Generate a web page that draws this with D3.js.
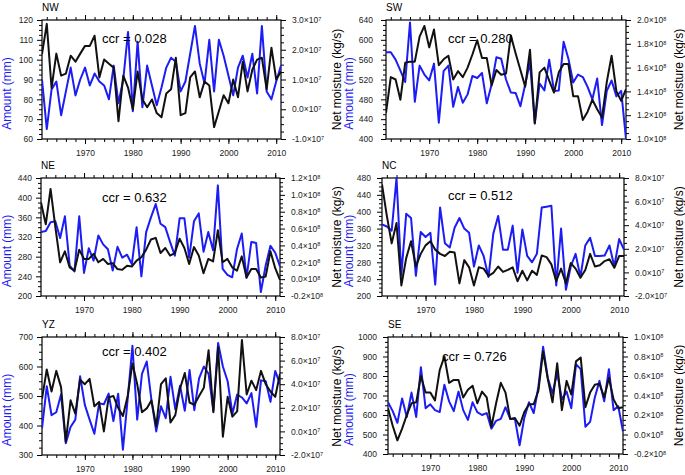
<!DOCTYPE html>
<head>
<meta charset="utf-8">
</head>
<style>
  body { margin: 0; background: #fff; }
  svg { font-family: "Liberation Sans", Arial, Helvetica, sans-serif; }
  .axis path { display: none; }
  .axis line { stroke: #000; stroke-width: 1; }
  .axis text { font-size: 8.5px; fill: #222; }
</style>
<body>
<script src="https://cdnjs.cloudflare.com/ajax/libs/d3/7.8.5/d3.min.js"></script>
<script>

// years on the x axis
var years = d3.range(1961, 2012)

// NW: amount (mm) and net moisture (x10^7 kg/s)
var nwAmount = [90,65,85,89,72,84,96,82,90,96, 87,93,89,87,80,97,78,90,114,74, 109,76,97,87,77,86,96,101,99,84, 89,103,117,98,88,110,84,110,102,92, 82,96,102,91,103,83,117,84,80,89,97]
var nwMoist = [1.85,2.87,0.71,1.87,1.13,1.2,1.8,1.6,1.87,2.13, 2.13,2.47,1.07,1.67,1.53,1.4,-0.4,1.13,0.73,0.0, 1.27,0.33,0.07,0.33,-0.13,-0.27,0.53,0.67,1.73,-0.2, -0.13,1.07,1.27,0.4,0.93,0.8,-0.6,-0.07,0.47,0.2, 1.0,0.4,1.6,0.6,1.33,1.67,1.73,0.67,2.07,1.0,1.27]

// SW: net moisture x10^8
var swAmount = [575,575,560,538,515,635,475,548,530,518, 552,433,537,548,465,505,473,490,527,523, 533,472,510,565,562,520,494,493,466,510, 555,432,512,498,560,497,498,596,562,514, 530,525,505,480,522,428,497,518,486,497,400]
var swMoist = [1.22,1.52,1.50,1.33,1.64,1.65,1.65,1.86,1.95,1.77, 1.92,1.62,1.67,1.70,1.50,1.57,1.52,1.60,1.71,1.83, 1.68,1.68,1.45,1.58,1.54,1.55,1.87,1.72,1.58,1.44, 1.75,1.13,1.56,1.60,1.49,1.39,1.56,1.63,1.63,1.36, 1.36,1.16,1.23,1.33,1.25,1.18,1.48,1.70,1.40,1.32,1.42]

// NE: net moisture x10^8
var neAmount = [330,332,350,352,318,362,262,250,362,247, 297,272,323,305,295,252,300,278,284,265, 340,240,330,360,387,347,340,310,282,358, 358,278,352,368,290,330,293,425,255,243, 238,295,327,237,310,308,208,262,302,288,260]
var neMoist = [0.91,0.65,1.07,0.62,0.20,0.33,0.14,0.10,0.35,0.24, 0.24,0.30,0.20,0.24,0.18,0.19,0.12,0.11,0.16,0.15, 0.22,0.26,0.35,0.47,0.49,0.31,0.37,0.28,0.31,0.48, 0.37,0.18,0.38,0.28,0.07,0.24,0.21,0.58,0.20,0.24, 0.14,0.10,0.27,0.02,0.12,0.12,0.02,0.03,0.33,0.13,-0.01]

// NC: net moisture x10^7
var ncAmount = [370,365,355,480,250,395,385,248,352,340, 350,227,410,325,315,362,385,360,350,270, 320,295,245,348,390,310,310,367,255,358, 295,280,300,410,412,414,225,360,215,270, 300,245,320,338,295,295,296,320,270,335,310]
var ncMoist = [7.46,4.79,2.46,4.18,-1.11,1.21,2.64,0.5,1.57,2.29, 2.64,1.93,1.57,1.39,1.75,1.68,-0.93,1.04,0.43,-1.11, 0.43,0.32,-0.29,-0.04,0.5,0.04,0.21,0.43,-0.75,0.14, -0.68,0.14,-0.21,1.43,1.29,0.68,-0.75,0.32,-0.93,0.79, 0.32,-0.46,0.21,1.57,0.5,0.61,0.96,1.11,0.39,1.39,1.39]

// YZ: net moisture x10^7
var yzAmount = [390,533,435,445,505,340,395,420,567,470, 420,372,475,472,508,415,508,318,490,670, 420,575,617,485,380,465,425,565,455,535, 450,588,452,560,600,575,450,680,600,550, 440,505,495,475,510,395,553,550,480,585,540]
var yzMoist = [2.75,5.25,3.38,5.13,3.75,-0.88,2.63,1.5,4.38,4.0, 4.45,2.13,2.5,0.0,2.88,3.0,2.0,1.3,3.0,5.75, 4.0,1.63,1.95,2.63,0.43,4.0,4.5,0.75,1.38,3.63, 4.95,2.45,2.25,3.0,3.7,6.88,1.63,7.13,-0.45,2.93, 1.25,1.7,7.75,3.13,4.3,3.5,5.13,4.0,3.38,2.93,4.88]

// SE: net moisture x10^8
var seAmount = [665,620,560,685,590,715,590,845,635,655, 625,615,755,670,620,720,625,575,665,615, 600,610,530,570,580,640,580,580,445,585, 665,610,745,950,790,710,815,680,720,635, 860,835,540,565,690,775,670,835,625,645,515]
var seMoist = [0.27,0.09,-0.06,0.06,0.2,0.32,0.33,0.6,0.43,0.43, 0.35,0.66,0.8,0.53,0.56,0.56,0.38,0.46,0.5,0.32, 0.44,0.38,0.08,0.32,0.53,0.43,0.16,0.17,0.09,0.23, 0.31,0.31,0.45,0.85,0.57,0.33,0.73,0.25,0.55,0.41, 0.75,0.79,0.28,0.43,0.51,0.52,0.38,0.58,0.36,0.27,0.28]

var decadeTicks = [1970, 1980, 1990, 2000, 2010]
var minorYearTicks = d3.range(1962, 2012, 2)

var blue = "#1c1cf5"

// one entry per panel: data + axis ranges + where the box sits
var panels = [
  { name: "NW", amount: nwAmount, moist: nwMoist, ccr: "0.028", exp: "7",
    amountRange: [60, 120], amountTicks: [60,70,80,90,100,110,120],
    moistRange: [-1, 3], moistTicks: [-1,0,1,2,3],
    box: [42, 20, 281, 139], ccrAt: [102, 43], leftLab: 7, rightLab: 337, pad: 4 },
  { name: "SW", amount: swAmount, moist: swMoist, ccr: "0.280", exp: "8",
    amountRange: [400, 640], amountTicks: [400,440,480,520,560,600,640],
    moistRange: [1.0, 2.0], moistTicks: [1.0,1.2,1.4,1.6,1.8,2.0],
    box: [386, 20, 626, 139], ccrAt: [448, 43], leftLab: 349, rightLab: 679, pad: 8 },
  { name: "NE", amount: neAmount, moist: neMoist, ccr: "0.632", exp: "8",
    amountRange: [200, 440], amountTicks: [200,240,280,320,360,400,440],
    moistRange: [-0.2, 1.2], moistTicks: [-0.2,0,0.2,0.4,0.6,0.8,1.0,1.2],
    box: [41, 178, 280, 296], ccrAt: [102, 202], leftLab: 7, rightLab: 337, pad: 4 },
  { name: "NC", amount: ncAmount, moist: ncMoist, ccr: "0.512", exp: "7",
    amountRange: [200, 480], amountTicks: [200,240,280,320,360,400,440,480],
    moistRange: [-2, 8], moistTicks: [-2,0,2,4,6,8],
    box: [382, 178, 624, 296], ccrAt: [448, 200], leftLab: 349, rightLab: 679, pad: 6 },
  { name: "YZ", amount: yzAmount, moist: yzMoist, ccr: "0.402", exp: "7",
    amountRange: [300, 700], amountTicks: [300,400,500,600,700],
    moistRange: [-2, 8], moistTicks: [-2,0,2,4,6,8],
    box: [42, 337, 280, 455], ccrAt: [102, 356], leftLab: 7, rightLab: 337, pad: 4 },
  { name: "SE", amount: seAmount, moist: seMoist, ccr: "0.726", exp: "8",
    amountRange: [400, 1000], amountTicks: [400,500,600,700,800,900,1000],
    moistRange: [-0.2, 1.0], moistTicks: [-0.2,0,0.2,0.4,0.6,0.8,1.0],
    box: [388, 337, 623, 454], ccrAt: [442, 361], leftLab: 349, rightLab: 679, pad: 6 }
]

var svg = d3.select("body").append("svg")
    .attr("width", 685)
    .attr("height", 475)

// minor ticks between each pair of majors (3 per major, like NCL)
function minors(ticks) {
  var out = []
  for (var i = 0; i < ticks.length - 1; i++) {
    var step = (ticks[i + 1] - ticks[i]) / 4
    for (var k = 1; k < 4; k++) out.push(ticks[i] + k * step)
  }
  return out
}

panels.forEach(function(p, pi) {
  var left = p.box[0], top = p.box[1], right = p.box[2], bottom = p.box[3]

  var x = d3.scaleLinear().domain([1961, 2011]).range([left, right])
  var yL = d3.scaleLinear().domain(p.amountRange).range([bottom, top])
  var yR = d3.scaleLinear().domain(p.moistRange).range([bottom, top])

  var g = svg.append("g")

  // bottom axis with year labels
  g.append("g").attr("class", "axis")
      .attr("transform", "translate(0," + bottom + ")")
      .call(d3.axisBottom(x).tickValues(decadeTicks).tickFormat(d3.format("d")).tickSize(5).tickPadding(6))
  g.append("g").attr("class", "axis")
      .attr("transform", "translate(0," + bottom + ")")
      .call(d3.axisBottom(x).tickValues(minorYearTicks).tickFormat("").tickSize(3))

  // top axis, ticks only
  g.append("g").attr("class", "axis")
      .attr("transform", "translate(0," + top + ")")
      .call(d3.axisTop(x).tickValues(decadeTicks).tickFormat("").tickSize(5))
  g.append("g").attr("class", "axis")
      .attr("transform", "translate(0," + top + ")")
      .call(d3.axisTop(x).tickValues(minorYearTicks).tickFormat("").tickSize(3))

  // left axis (amount)
  g.append("g").attr("class", "axis")
      .attr("transform", "translate(" + left + ",0)")
      .call(d3.axisLeft(yL).tickValues(p.amountTicks).tickFormat(d3.format("d")).tickSize(5).tickPadding(p.pad))
  g.append("g").attr("class", "axis")
      .attr("transform", "translate(" + left + ",0)")
      .call(d3.axisLeft(yL).tickValues(minors(p.amountTicks)).tickFormat("").tickSize(3))

  // right axis (net moisture) with x10^n labels
  var fmt = d3.format(".1f")
  var rAxis = g.append("g").attr("class", "axis")
      .attr("transform", "translate(" + right + ",0)")
      .call(d3.axisRight(yR).tickValues(p.moistTicks).tickSize(5).tickPadding(6))
  rAxis.selectAll(".tick text").each(function(d) {
    var t = d3.select(this)
    t.text(null)
    t.append("tspan").text(fmt(d).replace("\u2212", "-") + "\u00d710")
    t.append("tspan").attr("dy", "-0.45em").style("font-size", "5.5px").text(p.exp)
  })
  g.append("g").attr("class", "axis")
      .attr("transform", "translate(" + right + ",0)")
      .call(d3.axisRight(yR).tickValues(minors(p.moistTicks)).tickFormat("").tickSize(3))

  // box
  g.append("rect")
      .attr("x", left).attr("y", top)
      .attr("width", right - left).attr("height", bottom - top)
      .attr("fill", "none").attr("stroke", "#000").attr("stroke-width", 1.2)

  // lines
  var clipId = "clip" + pi
  svg.append("clipPath").attr("id", clipId)
    .append("rect").attr("x", left).attr("y", top - 1)
      .attr("width", right - left).attr("height", bottom - top + 2)

  var amountLine = d3.line()
      .x(function(d, i) { return x(years[i]) })
      .y(function(d) { return yL(d) })
  var moistLine = d3.line()
      .x(function(d, i) { return x(years[i]) })
      .y(function(d) { return yR(d) })

  g.append("path")
      .datum(p.amount)
      .attr("clip-path", "url(#" + clipId + ")")
      .attr("fill", "none")
      .attr("stroke", blue)
      .attr("stroke-width", 2)
      .attr("stroke-linejoin", "round")
      .attr("d", amountLine)

  g.append("path")
      .datum(p.moist)
      .attr("clip-path", "url(#" + clipId + ")")
      .attr("fill", "none")
      .attr("stroke", "#111")
      .attr("stroke-width", 2)
      .attr("stroke-linejoin", "round")
      .attr("d", moistLine)

  // titles and labels
  g.append("text")
      .attr("x", left).attr("y", top - 9)
      .style("font-size", "10px")
      .text(p.name)

  g.append("text")
      .attr("x", p.ccrAt[0]).attr("y", p.ccrAt[1])
      .style("font-size", "13px")
      .text("ccr = " + p.ccr)

  g.append("text")
      .attr("transform", "translate(" + p.leftLab + "," + ((top + bottom) / 2 + 14) + ") rotate(-90)")
      .attr("dy", "0.35em")
      .style("text-anchor", "middle")
      .style("font-size", "12px")
      .style("fill", blue)
      .text("Amount (mm)")

  g.append("text")
      .attr("transform", "translate(" + p.rightLab + "," + ((top + bottom) / 2) + ") rotate(-90)")
      .attr("dy", "0.35em")
      .style("text-anchor", "middle")
      .style("font-size", "12px")
      .text("Net moisture (kg/s)")
})

</script>
</body>
